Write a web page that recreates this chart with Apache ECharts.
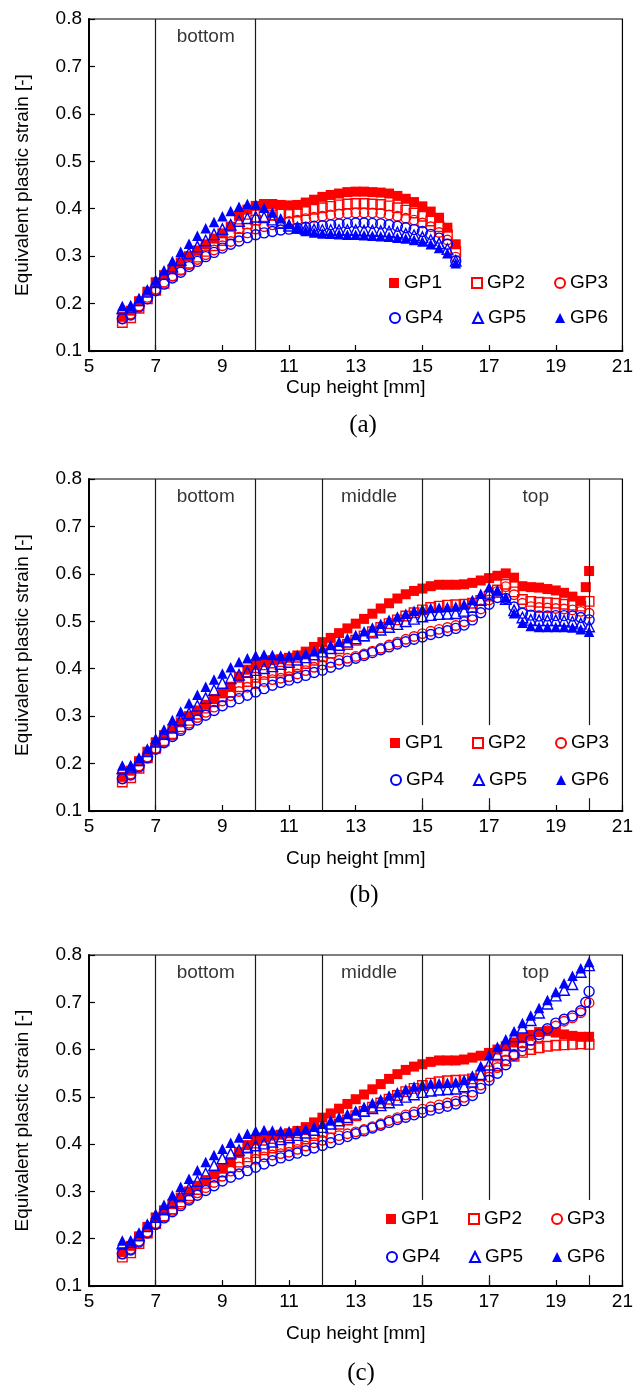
<!DOCTYPE html>
<html>
<head>
<meta charset="utf-8">
<script src="https://cdn.jsdelivr.net/npm/echarts@6/dist/echarts.min.js"></script>
<style>
html,body{margin:0;padding:0;background:#fff;}
#chart{width:636px;height:1387px;}
</style>
</head>
<body>
<div id="chart"></div>
<script>
// ---------- data ----------
const X_TICKS = [5, 7, 9, 11, 13, 15, 17, 19, 21];
const Y_TICKS = [0.1, 0.2, 0.3, 0.4, 0.5, 0.6, 0.7, 0.8];
const SERIES_NAMES = ['GP1', 'GP2', 'GP3', 'GP4', 'GP5', 'GP6'];
const PANEL_CAPTIONS = ['(a)', '(b)', '(c)'];

// cup height (mm)
const X_A = [6,6.25,6.5,6.75,7,7.25,7.5,7.75,8,8.25,8.5,8.75,9,9.25,9.5,9.75,10,10.25,10.5,10.75,
  11,11.25,11.5,11.75,12,12.25,12.5,12.75,13,13.25,13.5,13.75,14,14.25,14.5,14.75,15,15.25,15.5,15.75,16];
const X_B = [6,6.25,6.5,6.75,7,7.25,7.5,7.75,8,8.25,8.5,8.75,9,9.25,9.5,9.75,10,10.25,10.5,10.75,
  11,11.25,11.5,11.75,12,12.25,12.5,12.75,13,13.25,13.5,13.75,14,14.25,14.5,14.75,15,15.25,15.5,15.75,
  16,16.25,16.5,16.75,17,17.25,17.5,17.75,18,18.25,18.5,18.75,19,19.25,19.5,19.75,20];
const X_C = X_B;

// panel (a)
const GP1_A = [0.172,0.185,0.205,0.225, 0.245,0.26,0.272,0.287, 0.30,0.312,0.325,0.337, 0.348,0.362,0.385,0.398,
  0.406,0.41,0.41,0.408, 0.407,0.408,0.413,0.419, 0.425,0.429,0.432,0.435, 0.436,0.436,0.435,0.434,
  0.432,0.427,0.421,0.414, 0.405,0.394,0.381,0.36, 0.325];
const GP2_A = [0.16,0.17,0.19,0.21, 0.228,0.243,0.258,0.272, 0.285,0.298,0.31,0.322, 0.333,0.345,0.358,0.368,
  0.376,0.383,0.387,0.389, 0.391,0.393,0.396,0.399, 0.402,0.405,0.408,0.41, 0.411,0.411,0.41,0.409,
  0.406,0.402,0.397,0.391, 0.384,0.374,0.362,0.345, 0.31];
const GP3_A = [0.168,0.178,0.195,0.213, 0.23,0.245,0.258,0.27, 0.282,0.293,0.303,0.313, 0.322,0.331,0.34,0.349,
  0.357,0.362,0.366,0.37, 0.373,0.376,0.379,0.382, 0.384,0.387,0.389,0.39, 0.391,0.391,0.391,0.39,
  0.387,0.384,0.38,0.376, 0.37,0.362,0.35,0.334, 0.298];
const GP4_A = [0.168,0.176,0.193,0.21, 0.227,0.241,0.254,0.266, 0.278,0.289,0.299,0.308, 0.317,0.325,0.332,0.339,
  0.345,0.349,0.352,0.355, 0.357,0.359,0.361,0.363, 0.364,0.366,0.368,0.369, 0.37,0.37,0.369,0.368,
  0.366,0.363,0.36,0.356, 0.352,0.346,0.338,0.325, 0.29];
const GP5_A = [0.19,0.193,0.207,0.225, 0.245,0.262,0.278,0.292, 0.306,0.32,0.333,0.346, 0.357,0.366,0.374,0.38,
  0.383,0.382,0.377,0.37, 0.364,0.36,0.357,0.356, 0.355,0.355,0.355,0.355, 0.355,0.354,0.354,0.353,
  0.352,0.35,0.347,0.344, 0.34,0.334,0.327,0.315, 0.29];
const GP6_A = [0.195,0.196,0.212,0.23, 0.25,0.27,0.29,0.309, 0.326,0.343,0.359,0.372, 0.384,0.395,0.404,0.41,
  0.409,0.402,0.392,0.38, 0.368,0.359,0.353,0.35, 0.348,0.347,0.346,0.345, 0.345,0.344,0.343,0.342,
  0.341,0.339,0.337,0.334, 0.331,0.325,0.317,0.306, 0.285];

// panel (b)
const GP1_B = [0.172,0.185,0.205,0.225, 0.245,0.26,0.273,0.287, 0.30,0.312,0.324,0.336, 0.348,0.362,0.383,0.398,
  0.408,0.414,0.418,0.42, 0.423,0.428,0.436,0.446, 0.456,0.465,0.475,0.485, 0.495,0.505,0.516,0.527,
  0.538,0.548,0.557,0.564, 0.569,0.574,0.577,0.577, 0.577,0.578,0.581,0.586, 0.591,0.596,0.601,0.592,
  0.574,0.572,0.571,0.568, 0.565,0.56,0.552,0.543, 0.606];
const GP1_B_EXTRA = [[19.9, 0.572]];
const GP2_B = [0.161,0.17,0.19,0.212, 0.232,0.248,0.263,0.278, 0.291,0.304,0.317,0.33, 0.341,0.351,0.362,0.373,
  0.382,0.388,0.392,0.395, 0.398,0.404,0.411,0.418, 0.425,0.433,0.442,0.451, 0.46,0.469,0.478,0.487,
  0.495,0.503,0.511,0.518, 0.524,0.529,0.532,0.534, 0.535,0.536,0.538,0.544, 0.553,0.566,0.578,0.562,
  0.546,0.542,0.54,0.539, 0.538,0.536,0.534,0.532, 0.542];
const GP3_B = [0.168,0.178,0.195,0.214, 0.232,0.246,0.26,0.273, 0.285,0.297,0.308,0.319, 0.332,0.343,0.352,0.361,
  0.368,0.373,0.377,0.38, 0.383,0.389,0.396,0.403, 0.408,0.413,0.418,0.422, 0.426,0.431,0.437,0.443,
  0.45,0.456,0.462,0.468, 0.474,0.479,0.483,0.487, 0.491,0.499,0.51,0.526, 0.545,0.563,0.573,0.556,
  0.538,0.531,0.529,0.528, 0.527,0.526,0.524,0.521, 0.517];
const GP4_B = [0.168,0.176,0.193,0.212, 0.23,0.244,0.257,0.27, 0.282,0.292,0.302,0.312, 0.322,0.33,0.337,0.344,
  0.351,0.358,0.365,0.371, 0.376,0.381,0.386,0.392, 0.397,0.403,0.41,0.416, 0.422,0.428,0.434,0.44,
  0.446,0.452,0.457,0.462, 0.467,0.472,0.476,0.48, 0.485,0.492,0.503,0.518, 0.536,0.55,0.548,0.53,
  0.517,0.513,0.511,0.511, 0.512,0.512,0.511,0.508, 0.503];
const GP5_B = [0.19,0.193,0.207,0.226, 0.246,0.262,0.278,0.292, 0.306,0.322,0.338,0.355, 0.37,0.38,0.387,0.393,
  0.397,0.401,0.405,0.41, 0.414,0.419,0.424,0.43, 0.436,0.443,0.45,0.457, 0.464,0.47,0.476,0.482,
  0.488,0.494,0.5,0.505, 0.51,0.513,0.515,0.516, 0.517,0.522,0.53,0.545, 0.56,0.562,0.547,0.523,
  0.508,0.503,0.502,0.502, 0.502,0.501,0.499,0.495, 0.489];
const GP6_B = [0.196,0.196,0.213,0.232, 0.253,0.272,0.292,0.31, 0.327,0.345,0.362,0.377, 0.39,0.403,0.414,0.422,
  0.428,0.43,0.429,0.428, 0.428,0.429,0.432,0.437, 0.443,0.45,0.457,0.464, 0.471,0.479,0.487,0.495,
  0.503,0.51,0.516,0.522, 0.526,0.528,0.529,0.53, 0.531,0.536,0.545,0.558, 0.572,0.565,0.55,0.517,
  0.497,0.49,0.488,0.488, 0.488,0.488,0.487,0.483, 0.478];

// panel (c)
const GP1_C = [0.172,0.185,0.205,0.225, 0.245,0.26,0.273,0.287, 0.30,0.312,0.324,0.336, 0.348,0.362,0.383,0.398,
  0.408,0.414,0.418,0.42, 0.423,0.428,0.436,0.446, 0.456,0.465,0.475,0.485, 0.495,0.505,0.516,0.527,
  0.538,0.548,0.557,0.564, 0.569,0.574,0.577,0.577, 0.577,0.579,0.583,0.587, 0.593,0.60,0.607,0.615,
  0.624,0.631,0.637,0.639, 0.636,0.632,0.629,0.627, 0.627];
const GP2_C = [0.161,0.17,0.19,0.212, 0.232,0.248,0.263,0.278, 0.291,0.304,0.317,0.33, 0.341,0.351,0.362,0.373,
  0.382,0.388,0.392,0.395, 0.398,0.404,0.411,0.418, 0.425,0.433,0.442,0.451, 0.46,0.469,0.478,0.487,
  0.495,0.503,0.511,0.518, 0.524,0.529,0.532,0.534, 0.535,0.536,0.538,0.545, 0.555,0.566,0.576,0.586,
  0.594,0.60,0.604,0.607, 0.609,0.61,0.611,0.612, 0.611];
const GP3_C = [0.168,0.178,0.195,0.214, 0.232,0.246,0.26,0.273, 0.285,0.297,0.308,0.319, 0.332,0.343,0.352,0.361,
  0.368,0.373,0.377,0.38, 0.383,0.389,0.396,0.403, 0.408,0.413,0.418,0.422, 0.426,0.431,0.437,0.443,
  0.45,0.456,0.462,0.468, 0.474,0.479,0.483,0.487, 0.491,0.499,0.51,0.525, 0.542,0.562,0.578,0.59,
  0.597,0.61,0.626,0.64, 0.65,0.66,0.667,0.678, 0.699];
const GP4_C = [0.168,0.176,0.193,0.212, 0.23,0.244,0.257,0.27, 0.282,0.292,0.302,0.312, 0.322,0.33,0.337,0.344,
  0.351,0.358,0.365,0.371, 0.376,0.381,0.386,0.392, 0.397,0.403,0.41,0.416, 0.422,0.428,0.434,0.44,
  0.446,0.452,0.457,0.462, 0.467,0.472,0.476,0.48, 0.485,0.492,0.503,0.518, 0.535,0.55,0.568,0.588,
  0.607,0.62,0.632,0.644, 0.656,0.664,0.671,0.682, 0.723];
const GP4_C_EXTRA = [[19.9, 0.70]];
const GP5_C = [0.19,0.193,0.207,0.226, 0.246,0.262,0.278,0.292, 0.306,0.322,0.338,0.355, 0.37,0.38,0.387,0.393,
  0.397,0.401,0.405,0.41, 0.414,0.419,0.424,0.43, 0.436,0.443,0.45,0.457, 0.464,0.47,0.476,0.482,
  0.488,0.494,0.5,0.505, 0.51,0.513,0.515,0.516, 0.517,0.522,0.532,0.548, 0.568,0.59,0.61,0.628,
  0.646,0.662,0.678,0.697, 0.714,0.726,0.738,0.764, 0.778];
const GP6_C = [0.196,0.196,0.213,0.232, 0.253,0.272,0.292,0.31, 0.327,0.345,0.362,0.377, 0.39,0.403,0.414,0.422,
  0.428,0.43,0.429,0.428, 0.428,0.429,0.432,0.437, 0.443,0.45,0.457,0.464, 0.471,0.479,0.487,0.495,
  0.503,0.51,0.516,0.522, 0.526,0.528,0.529,0.53, 0.531,0.536,0.545,0.565, 0.588,0.606,0.622,0.639,
  0.656,0.672,0.688,0.705, 0.722,0.74,0.756,0.772, 0.785];

// region dividers (cup height) and labels
const DIVIDERS_A = [7, 10];
const DIVIDERS_BC_FULL = [7, 10, 12];
const DIVIDERS_BC_CUT = [15, 17, 20];
const REGION_LABELS_A = [{name: 'bottom', x: 8.5}];
const REGION_LABELS_BC = [{name: 'bottom', x: 8.5}, {name: 'middle', x: 13.4}, {name: 'top', x: 18.4}];
const REGION_LABEL_Y = 0.762;

// ---------- chart ----------
const FONT = 'Liberation Sans, Arial, sans-serif';
const RED = '#ff0000', BLUE = '#0000ff';
const STYLE = [
  {symbol: 'rect', size: 10, color: RED, fill: true},
  {symbol: 'rect', size: 9.5, color: RED, fill: false},
  {symbol: 'circle', size: 9.5, color: RED, fill: false},
  {symbol: 'circle', size: 10, color: BLUE, fill: false},
  {symbol: 'triangle', size: 10.5, color: BLUE, fill: false},
  {symbol: 'triangle', size: 10.5, color: BLUE, fill: true}
];
const pairs = (xs, ys) => xs.map((x, i) => [x, ys[i]]);

const panels = [
  {grid: {left: 89, top: 19, width: 538, height: 332}, nameGap: 27,
   data: [pairs(X_A, GP1_A), pairs(X_A, GP2_A), pairs(X_A, GP3_A), pairs(X_A, GP4_A), pairs(X_A, GP5_A), pairs(X_A, GP6_A)],
   full: DIVIDERS_A, cut: [], cutTop: 0, cutBottom: 0, labels: REGION_LABELS_A,
   legendLeft: 389, legendRows: [273, 308], captionTop: 408},
  {grid: {left: 89, top: 479, width: 540, height: 332}, nameGap: 38,
   data: [pairs(X_B, GP1_B).concat(GP1_B_EXTRA), pairs(X_B, GP2_B), pairs(X_B, GP3_B), pairs(X_B, GP4_B), pairs(X_B, GP5_B), pairs(X_B, GP6_B)],
   full: DIVIDERS_BC_FULL, cut: DIVIDERS_BC_CUT, cutTop: 0.281, cutBottom: 0.127, labels: REGION_LABELS_BC,
   legendLeft: 390, legendRows: [733, 770], captionTop: 878},
  {grid: {left: 89, top: 955, width: 534, height: 331}, nameGap: 38,
   data: [pairs(X_C, GP1_C), pairs(X_C, GP2_C), pairs(X_C, GP3_C), pairs(X_C, GP4_C).concat(GP4_C_EXTRA), pairs(X_C, GP5_C), pairs(X_C, GP6_C)],
   full: DIVIDERS_BC_FULL, cut: DIVIDERS_BC_CUT, cutTop: 0.282, cutBottom: 0.123, labels: REGION_LABELS_BC,
   legendLeft: 386, legendRows: [1209, 1247], captionTop: 1356}
];

const grids = [], xAxes = [], yAxes = [], series = [], legends = [], titles = [];
panels.forEach((p, k) => {
  grids.push(Object.assign({show: true, borderColor: '#000', borderWidth: 1.2, backgroundColor: 'transparent'}, p.grid));
  xAxes.push({
    type: 'value', gridIndex: k, min: X_TICKS[0], max: X_TICKS[X_TICKS.length - 1], interval: 2,
    name: 'Cup height [mm]', nameLocation: 'middle', nameGap: p.nameGap,
    nameTextStyle: {fontFamily: FONT, fontSize: 19, color: '#000'},
    axisLine: {show: true, lineStyle: {color: '#000', width: 2}},
    axisTick: {show: true, inside: true, length: 6, lineStyle: {color: '#000', width: 1.2}},
    axisLabel: {fontFamily: FONT, fontSize: 19, color: '#000', margin: 6},
    splitLine: {show: false}
  });
  yAxes.push({
    type: 'value', gridIndex: k, min: Y_TICKS[0], max: Y_TICKS[Y_TICKS.length - 1], interval: 0.1,
    name: 'Equivalent plastic strain [-]', nameLocation: 'middle', nameGap: 57,
    nameTextStyle: {fontFamily: FONT, fontSize: 19, color: '#000'},
    axisLine: {show: true, lineStyle: {color: '#000', width: 2}},
    axisTick: {show: true, inside: true, length: 6, lineStyle: {color: '#000', width: 1.2}},
    axisLabel: {fontFamily: FONT, fontSize: 19, color: '#000', margin: 7, formatter: v => v.toFixed(1)},
    splitLine: {show: false}
  });
  SERIES_NAMES.forEach((name, i) => {
    const s = STYLE[i];
    series.push({
      type: 'scatter', name: name, xAxisIndex: k, yAxisIndex: k,
      symbol: s.symbol, symbolSize: s.size, data: p.data[i],
      itemStyle: s.fill ? {color: s.color, borderWidth: 0, opacity: 1}
                        : {color: 'rgba(255,255,255,0)', borderColor: s.color, borderWidth: 1.4, opacity: 1},
      emphasis: {disabled: true}, silent: true
    });
  });
  const lines = [];
  p.full.forEach(x => lines.push([{coord: [x, Y_TICKS[0]]}, {coord: [x, Y_TICKS[Y_TICKS.length - 1]]}]));
  p.cut.forEach(x => {
    lines.push([{coord: [x, p.cutTop]}, {coord: [x, Y_TICKS[Y_TICKS.length - 1]]}]);
    lines.push([{coord: [x, Y_TICKS[0]]}, {coord: [x, p.cutBottom]}]);
  });
  series.push({
    type: 'scatter', name: 'regions', xAxisIndex: k, yAxisIndex: k, symbolSize: 0, silent: true,
    data: p.labels.map(l => ({name: l.name, value: [l.x, REGION_LABEL_Y]})),
    label: {show: true, position: 'inside', formatter: d => d.name, fontFamily: FONT, fontSize: 19, color: '#000'},
    markLine: {silent: true, symbol: 'none', label: {show: false},
      lineStyle: {color: '#1a1a1a', width: 1.2, type: 'solid'}, data: lines}
  });
  [SERIES_NAMES.slice(0, 3), SERIES_NAMES.slice(3)].forEach((row, r) => {
    legends.push({
      data: row, left: p.legendLeft, top: p.legendRows[r], orient: 'horizontal',
      itemWidth: 10, itemHeight: 10, itemGap: 29, padding: 0, selectedMode: false,
      textStyle: {fontFamily: FONT, fontSize: 19, color: '#000', lineHeight: 20}
    });
  });
  titles.push({
    text: PANEL_CAPTIONS[k], left: p.grid.left + p.grid.width / 2, top: p.captionTop, textAlign: 'center',
    textStyle: {fontFamily: 'Liberation Serif, Times New Roman, serif', fontSize: 25, fontWeight: 'normal', color: '#000'}
  });
});

const chart = echarts.init(document.getElementById('chart'), null, {renderer: 'canvas'});
chart.setOption({
  animation: false,
  backgroundColor: '#fff',
  title: titles,
  grid: grids,
  xAxis: xAxes,
  yAxis: yAxes,
  legend: legends,
  series: series
});
</script>
</body>
</html>
